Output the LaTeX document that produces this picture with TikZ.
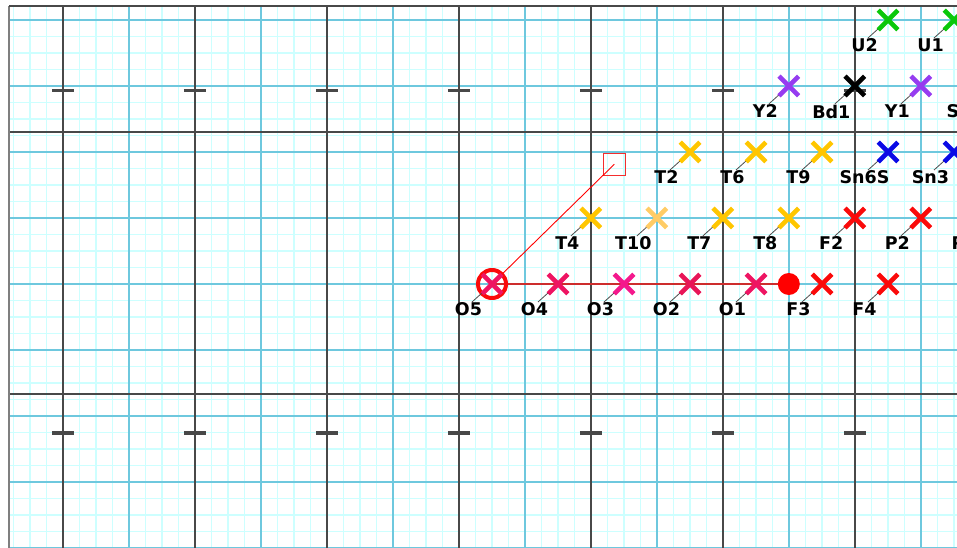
\documentclass[tikz,border=0pt]{standalone}
\usepackage{fontspec}
\setmainfont{DejaVu Sans}
\usetikzlibrary{calc,shapes.misc}
\definecolor{GridMinor}{RGB}{205,255,255}
\definecolor{GridMid}{RGB}{110,200,222}
\definecolor{GridMajor}{RGB}{72,72,72}
\definecolor{OxPink}{RGB}{238,20,98}
\definecolor{OxMagenta}{RGB}{244,24,140}
\definecolor{OxCrimson}{RGB}{232,22,88}
\definecolor{FeRed}{RGB}{250,10,10}
\definecolor{TiGold}{RGB}{255,198,0}
\definecolor{TiPeach}{RGB}{255,204,102}
\definecolor{SnBlue}{RGB}{10,10,230}
\definecolor{YtPurple}{RGB}{150,60,240}
\definecolor{UrGreen}{RGB}{10,200,10}
\definecolor{PathRed}{RGB}{205,45,45}
\definecolor{BoxRed}{RGB}{245,45,45}

\tikzset{
  xmark/.style={draw=#1,cross out,line width=4.6pt,minimum size=15pt,inner sep=0pt},
  lbl/.style={font=\fontsize{17.5}{20}\selectfont\bfseries,inner sep=0pt},
  leader/.style={draw=black!70,line width=.8pt},
  tickbar/.style={GridMajor,line width=3.5pt},
}

\begin{document}
\begin{tikzpicture}[x=1pt,y=-1pt]
  \useasboundingbox (0,0) rectangle (957,548);
  \clip (0,0) rectangle (957,548);
  % grid
  \foreach \k in {-3,...,54}
    \draw[GridMinor,line width=1.5pt] ({62.8+16.5*\k},6)--({62.8+16.5*\k},548);
  \foreach \k in {0,...,32}
    \draw[GridMinor,line width=1.5pt] (9,{20+16.5*\k})--(957,{20+16.5*\k});
  \foreach \k in {0,...,6}
    \draw[GridMid,line width=1.8pt] ({128.8+132*\k},6)--({128.8+132*\k},548);
  \foreach \k in {0,...,8}
    \draw[GridMid,line width=1.8pt] (9,{20+66*\k})--(957,{20+66*\k});
  \foreach \k in {0,...,6}
    \draw[GridMajor,line width=1.5pt] ({62.8+132*\k},6)--({62.8+132*\k},548);
  \draw[GridMajor,line width=1.7pt] (9,131.7)--(957,131.7);
  \draw[GridMajor,line width=1.7pt] (9,393.7)--(957,393.7);
  \draw[GridMajor!70!white,line width=1.6pt] (9,6)--(9,548);
  \draw[GridMajor,line width=1.6pt] (9,6)--(957,6);
  \foreach \k in {0,...,6} {
    \draw[tickbar] ({51.8+132*\k},90.3)--({73.8+132*\k},90.3);
    \draw[tickbar] ({51.8+132*\k},432.8)--({73.8+132*\k},432.8);
  }

  % path of O5
  \coordinate (o5c) at (492,284);
  \node[draw=BoxRed,line width=1.3pt,minimum size=22pt,inner sep=0pt] (sq) at (614.3,164.3) {};
  \node[circle,fill=red,minimum size=22pt,inner sep=0pt] (dot) at (788.8,284) {};
  \draw[PathRed,line width=1.5pt] (o5c)--(dot);
  \draw[red,line width=.9pt] (o5c)--(sq.center);
  \node[circle,draw=FeRed,line width=4pt,minimum size=28pt,inner sep=0pt] (ring) at (o5c) {};

  % markers
  \foreach \px/\py/\col/\lab in {
      492/284/OxPink/O5, 558/284/OxPink/O4, 624/284/OxMagenta/O3,
      690/284/OxCrimson/O2, 756/284/OxPink/O1, 822/284/FeRed/F3, 888/284/FeRed/F4,
      590.8/218/TiGold/T4, 656.8/218/TiPeach/T10, 722.8/218/TiGold/T7,
      788.8/218/TiGold/T8, 854.8/218/FeRed/F2, 920.8/218/FeRed/P2,
      690/152/TiGold/T2, 756/152/TiGold/T6, 822/152/TiGold/T9,
      888/152/SnBlue/Sn6S, 954/152/SnBlue/Sn3,
      788.8/86/YtPurple/Y2, 854.8/86/black/Bd1, 920.8/86/YtPurple/Y1,
      888/20/UrGreen/U2, 954/20/UrGreen/U1} {
    \coordinate (c-\lab) at (\px,\py);
    \coordinate (e-\lab) at ($(c-\lab)+(-20,18)$);
    \draw[leader] (c-\lab)--(e-\lab);
    \node[lbl] (t-\lab) at ($(c-\lab)+(-23.5,25.5)$) {\lab};
    \node[xmark=\col] (m-\lab) at (c-\lab) {};
  }
  % labels cut by the edge
  \node[lbl,anchor=west] (t-edge1) at (946.5,111.5) {S};
  \node[lbl,anchor=west] (t-edge2) at (951.5,243.5) {P};
\end{tikzpicture}
\end{document}
